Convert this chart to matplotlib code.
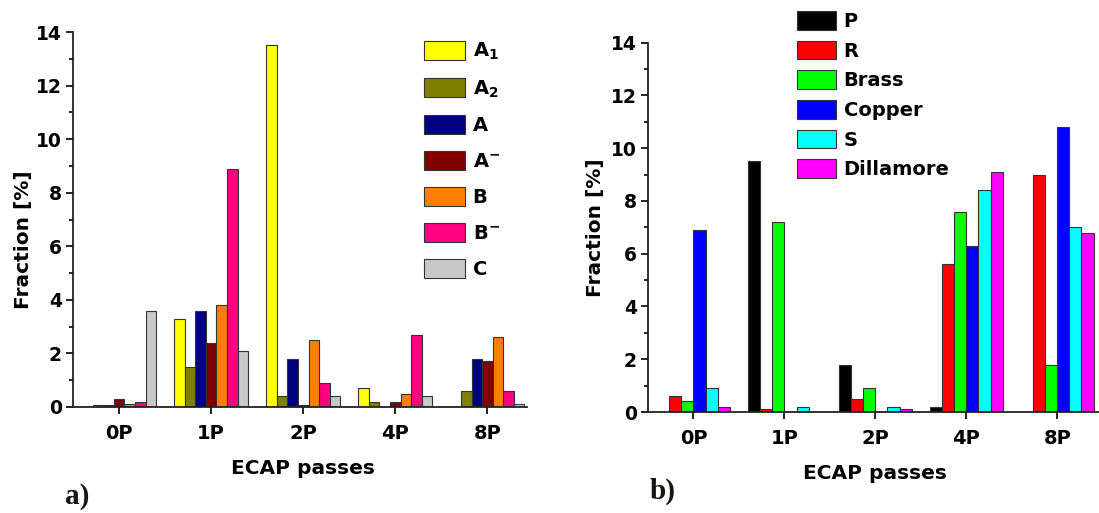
import numpy as np
import matplotlib
matplotlib.use('Agg')
import matplotlib.pyplot as plt
from matplotlib.ticker import MultipleLocator

plt.rcParams['font.family'] = ['DejaVu Sans']
plt.rcParams['font.weight'] = 'bold'
plt.rcParams['font.size'] = 14
plt.rcParams['mathtext.fontset'] = 'custom'
plt.rcParams['mathtext.rm'] = 'DejaVu Sans:bold'
plt.rcParams['mathtext.it'] = 'DejaVu Sans:bold'
plt.rcParams['mathtext.bf'] = 'DejaVu Sans:bold'

# data
passes = ['0P', '1P', '2P', '4P', '8P']

# a) components
labels_a = ['A$_1$', 'A$_2$', 'A', 'A$^{-}$', 'B', 'B$^{-}$', 'C']
colors_a = ['#FFFF00', '#808000', '#000080', '#800000', '#FF8000', '#FF0080', '#C8C8C8']
A1 = [0.0, 3.3, 13.5, 0.7, 0.0]
A2 = [0.08, 1.5, 0.4, 0.2, 0.6]
A = [0.08, 3.6, 1.8, 0.0, 1.8]
A_bar = [0.3, 2.4, 0.08, 0.2, 1.7]
B = [0.1, 3.8, 2.5, 0.5, 2.6]
B_bar = [0.2, 8.9, 0.9, 2.7, 0.6]
C = [3.6, 2.1, 0.4, 0.4, 0.1]
series_a = [A1, A2, A, A_bar, B, B_bar, C]

# b) components
labels_b = ['P', 'R', 'Brass', 'Copper', 'S', 'Dillamore']
colors_b = ['#000000', '#FF0000', '#00FF00', '#0000FF', '#00FFFF', '#FF00FF']
P = [0.0, 9.5, 1.8, 0.2, 0.0]
R = [0.6, 0.1, 0.5, 5.6, 9.0]
Brass = [0.4, 7.2, 0.9, 7.6, 1.8]
Copper = [6.9, 0.0, 0.0, 6.3, 10.8]
S = [0.9, 0.2, 0.2, 8.4, 7.0]
Dillamore = [0.2, 0.0, 0.1, 9.1, 6.8]
series_b = [P, R, Brass, Copper, S, Dillamore]

W, H = 1099, 513
fig = plt.figure(figsize=(W / 100, H / 100), dpi=100)


def px_axes(x0, x1, ytop, ybot):
    return fig.add_axes([x0 / W, (H - ybot) / H, (x1 - x0) / W, (ybot - ytop) / H])


def style(ax, xmax):
    for s in ['top', 'right']:
        ax.spines[s].set_visible(False)
    for s in ['left', 'bottom']:
        ax.spines[s].set_linewidth(1.3)
        ax.spines[s].set_color('#222222')
    ax.set_ylim(0, 14)
    ax.set_xlim(-0.5, xmax)
    ax.set_xticks(range(len(passes)))
    ax.set_xticklabels(passes, fontsize=14)
    ax.yaxis.set_major_locator(MultipleLocator(2))
    ax.yaxis.set_minor_locator(MultipleLocator(1))
    ax.tick_params(axis='both', which='major', direction='out', length=5, width=1.2)
    ax.tick_params(axis='y', which='minor', direction='out', length=3, width=1.2)
    ax.tick_params(axis='x', pad=7)
    ax.tick_params(axis='y', pad=3, labelsize=13.5)
    ax.set_xlabel('ECAP passes', fontsize=14.5, fontweight='bold')
    ax.set_ylabel('Fraction [%]', fontsize=14.5, fontweight='bold')


x = np.arange(len(passes))

# panel a
ax1 = px_axes(73, 527, 32, 407)
w1 = 0.115
for i, (vals, c, lab) in enumerate(zip(series_a, colors_a, labels_a)):
    ax1.bar(x + (i - 3) * w1, vals, w1, color=c, edgecolor='#333333', linewidth=0.8, label=lab)
style(ax1, 4.43)
ax1.yaxis.set_label_coords(-0.088, 0.445)
ax1.xaxis.set_label_coords(0.507, -0.14)
ax1.legend(loc='upper left', bbox_to_anchor=(424 / W, 1 - 41 / H), bbox_transform=fig.transFigure,
           frameon=False, borderpad=0, borderaxespad=0, handlelength=2.1, handleheight=1.1,
           handletextpad=0.4, labelspacing=0.82, fontsize=14)

# panel b
ax2 = px_axes(648, 1099, 42.7, 412)
w2 = 0.1335
for i, (vals, c, lab) in enumerate(zip(series_b, colors_b, labels_b)):
    ax2.bar(x + (i - 2.5) * w2, vals, w2, color=c, edgecolor='#333333', linewidth=0.8, label=lab)
style(ax2, 4.46)
ax2.yaxis.set_label_coords(-0.095, 0.5)
ax2.xaxis.set_label_coords(0.503, -0.14)
ax2.legend(loc='upper left', bbox_to_anchor=(797 / W, 1 - 11 / H), bbox_transform=fig.transFigure,
           frameon=False, borderpad=0, borderaxespad=0, handlelength=2.0, handleheight=1.1,
           handletextpad=0.4, labelspacing=0.5, fontsize=14)

fig.text(65 / W, 9 / H, 'a)', family='Liberation Serif', fontweight='bold', fontsize=21,
         color='#1a1410', va='baseline')
fig.text(650 / W, 14 / H, 'b)', family='Liberation Serif', fontweight='bold', fontsize=21,
         color='#1a1410', va='baseline')

fig.savefig('out.png', dpi=100)
